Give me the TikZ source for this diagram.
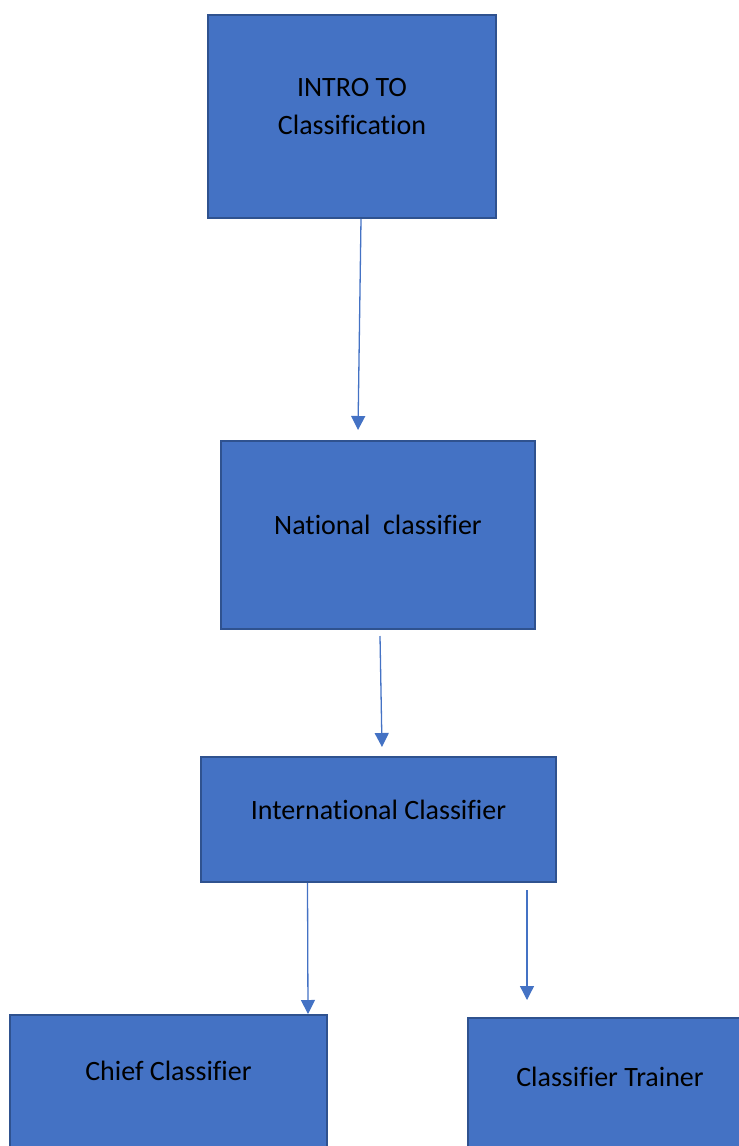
\documentclass[tikz,border=0pt]{standalone}
\usepackage{fontspec}
\setmainfont{Carlito}[Ligatures=NoCommon]
\usetikzlibrary{arrows.meta}
\definecolor{boxblue}{HTML}{4472C4}
\definecolor{boxedge}{HTML}{2F528F}
\begin{document}
\begin{tikzpicture}
[x=1pt,y=-1pt,
 box/.style={draw=boxedge,line width=2pt,fill=boxblue,inner sep=0pt},
 txt/.style={font=\fontsize{28}{38}\selectfont,align=center,yshift=10pt,inner sep=0pt},
 arr/.style={draw=boxblue,line width=1.3pt,-{Triangle[length=14pt,width=14pt]}}]
\useasboundingbox (0,0) rectangle (739,1146);
\clip (0,0) rectangle (739,1146);
\node [box,minimum width=288pt,minimum height=203pt,label={[txt]center:INTRO TO\\Classification}] (intro) at (352,116.5) {};
\node [box,minimum width=314pt,minimum height=188pt,label={[txt]center:National\ \ classifier}] (nat) at (378,535) {};
\node [box,minimum width=355pt,minimum height=125pt,label={[txt]center:International Classifier}] (intl) at (378.5,819.5) {};
\node [box,minimum width=317pt,minimum height=132pt,label={[txt]center:Chief Classifier}] (chief) at (168.5,1081) {};
\node [box,minimum width=322pt,minimum height=138pt,label={[txt,xshift=-19pt]center:Classifier Trainer}] (trainer) at (629,1087) {};
\coordinate (a1) at (358,430);
\coordinate (a2) at (382,747);
\coordinate (a3) at (308,1014);
\coordinate (a4) at (527,1000);
\draw [arr] (intro.south) ++(9,0) -- (a1);
\draw [arr] (nat.south) ++(2,6) -- (a2);
\draw [arr] (intl.south) ++(-71,0) -- (a3);
\draw [arr] (intl.south) ++(148.5,7) -- (a4);
\end{tikzpicture}
\end{document}
